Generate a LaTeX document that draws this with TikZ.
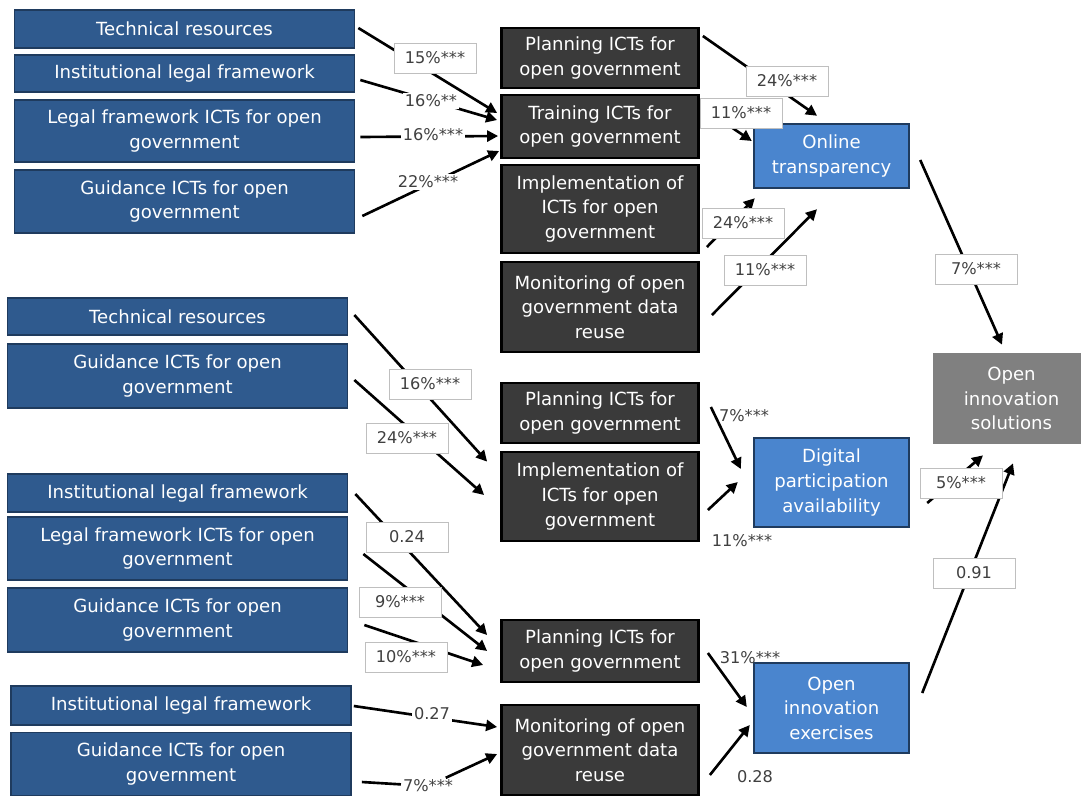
\documentclass[tikz,border=0pt]{standalone}
\usepackage{fontspec}
\setmainfont{DejaVu Sans}
\usetikzlibrary{arrows.meta,calc}
\definecolor{srcblue}{HTML}{2F5A8E}
\definecolor{srcedge}{HTML}{1F3B5E}
\definecolor{actgray}{HTML}{3A3A3A}
\definecolor{outblue}{HTML}{4A85CE}
\definecolor{fingray}{HTML}{808080}
\definecolor{labtext}{HTML}{404040}

\begin{document}
\begin{tikzpicture}[x=0.02cm,y=-0.02cm,
 src/.style={draw=srcedge,line width=1pt,fill=srcblue,text=white,align=center,inner sep=0pt,minimum width=6.8cm},
 act/.style={draw=black,line width=1.6pt,fill=actgray,text=white,align=center,inner sep=0pt,minimum width=3.94cm},
 res/.style={draw=srcedge,line width=1.4pt,fill=outblue,text=white,align=center,inner sep=0pt,minimum width=3.1cm},
 fin/.style={fill=fingray,text=white,align=center,inner sep=0pt,minimum width=3.14cm,minimum height=1.82cm},
 lab/.style={draw=black!25,fill=white,text=labtext,minimum width=1.64cm,minimum height=0.6cm,inner sep=0pt,font=\fontsize{9.2}{11}\selectfont},
 plab/.style={text=labtext,inner sep=1pt,font=\fontsize{9.2}{11}\selectfont},
 arr/.style={-{Triangle[length=2.2mm,width=2.2mm]},line width=1.5pt},
 font=\fontsize{10.3}{14}\selectfont]
 \path[use as bounding box,fill=white] (0,0) rectangle (1081,795);

 % sources
 \node[src,minimum height=0.76cm] (b1) at (184.5,29) {Technical resources};
 \node[src,minimum height=0.74cm] (b2) at (184.5,73.5) {Institutional legal framework};
 \node[src,minimum height=1.24cm] (b3) at (184.5,131) {Legal framework ICTs for open\\government};
 \node[src,minimum height=1.26cm] (b4) at (184.5,201.5) {Guidance ICTs for open\\government};
 \node[src,minimum height=0.74cm] (b5) at (177.5,316.5) {Technical resources};
 \node[src,minimum height=1.28cm] (b6) at (177.5,376) {Guidance ICTs for open\\government};
 \node[src,minimum height=0.76cm] (b7) at (177.5,493) {Institutional legal framework};
 \node[src,minimum height=1.26cm] (b8) at (177.5,548.5) {Legal framework ICTs for open\\government};
 \node[src,minimum height=1.28cm] (b9) at (177.5,620) {Guidance ICTs for open\\government};
 \node[src,minimum height=0.78cm] (b10) at (181,705.5) {Institutional legal framework};
 \node[src,minimum height=1.26cm] (b11) at (181,764) {Guidance ICTs for open\\government};

 % practices
 \node[act,minimum height=1.2cm] (d1) at (600,58) {Planning ICTs for\\open government};
 \node[act,minimum height=1.26cm] (d2) at (600,126.5) {Training ICTs for\\open government};
 \node[act,minimum height=1.76cm] (d3) at (600,209) {Implementation of\\ICTs for open\\government};
 \node[act,minimum height=1.8cm] (d4) at (600,307) {Monitoring of open\\government data\\reuse};
 \node[act,minimum height=1.2cm] (d5) at (600,413) {Planning ICTs for\\open government};
 \node[act,minimum height=1.78cm] (d6) at (600,496.5) {Implementation of\\ICTs for open\\government};
 \node[act,minimum height=1.24cm] (d7) at (600,651) {Planning ICTs for\\open government};
 \node[act,minimum height=1.8cm] (d8) at (600,750) {Monitoring of open\\government data\\reuse};

 % outcomes
 \node[res,minimum height=1.28cm] (t1) at (831.5,156) {Online\\transparency};
 \node[res,minimum height=1.78cm] (t2) at (831.5,482.5) {Digital\\participation\\availability};
 \node[res,minimum height=1.8cm] (t3) at (831.5,708) {Open\\innovation\\exercises};
 \node[fin] (g) at (1011.5,398.5) {Open\\innovation\\solutions};

 \draw[arr] ($(b1.east)+(3,-1)$) -- ($(d2.west)+(-3,-13.5)$);
 \draw[arr] ($(b2.east)+(5,6.5)$) -- ($(d2.west)+(-3,-6.5)$);
 \draw[arr] ($(b3.east)+(5,6)$) -- ($(d2.west)+(-2,9.5)$);
 \draw[arr] ($(b4.east)+(7,14.5)$) -- ($(d2.west)+(-1,24.5)$);
 \draw[arr] ($(d1.east)+(3,-22)$) -- ($(t1.north)+(-14.5,-7)$);
 \draw[arr] ($(d2.east)+(3,-18.5)$) -- ($(t1.west)+(-1,-15)$);
 \draw[arr] ($(d3.east)+(7,38)$) -- ($(t1.south west)+(2,9)$);
 \draw[arr] ($(d4.east)+(12,8)$) -- ($(t1.south)+(-14.5,20)$);
 \draw[arr] ($(t1.east)+(10,4)$) -- ($(g.north)+(-9.5,-8)$);
 \draw[arr] ($(b5.east)+(6,-1.5)$) -- ($(d6.north west)+(-13,11)$);
 \draw[arr] ($(b6.east)+(6,4)$) -- ($(d6.west)+(-16,-1.5)$);
 \draw[arr] ($(d5.east)+(11,-6)$) -- ($(t2.west)+(-12,-13.5)$);
 \draw[arr] ($(d6.east)+(8,13.5)$) -- ($(t2.west)+(-15,-0.5)$);
 \draw[arr] ($(t2.east)+(17,20.5)$) -- ($(g.south)+(-28.5,11)$);
 \draw[arr] ($(b7.east)+(7,1)$) -- ($(d7.west)+(-13,-16)$);
 \draw[arr] ($(b8.east)+(15,5.5)$) -- ($(d7.west)+(-13,0)$);
 \draw[arr] ($(b9.east)+(16,5)$) -- ($(d7.west)+(-17,14)$);
 \draw[arr] ($(b10.east)+(2,0.5)$) -- ($(d8.west)+(-3,-23)$);
 \draw[arr] ($(d7.east)+(8,2)$) -- ($(t3.west)+(-6,-1)$);
 \draw[arr] ($(d8.east)+(10,25)$) -- ($(t3.west)+(-3,17)$);
 \draw[arr] ($(t3.east)+(12,-15)$) -- ($(g.south)+(1.5,19)$);

 % path weights
 \foreach \x/\y/\t [count=\i] in {435/58/15\%***,787/81/24\%***,741/113/11\%***,
   743/223/24\%***,765/270/11\%***,976/269/7\%***,430/384/16\%***,407/438/24\%***,
   961/483/5\%***,407/537/0.24,400/602/9\%***,406/657/10\%***,974/573/0.91}
   \node[lab] (w\i) at (\x,\y) {\t};
 \foreach \x/\y/\t [count=\i] in {431/101/16\%**,433/135/16\%***,428/182/22\%***,432/714/0.27}
   \node[plab,fill=white] (p\i) at (\x,\y) {\t};
 \foreach \x/\y/\t [count=\i] in {744/416/7\%***,742/541/11\%***,750/658/31\%***,755/777/0.28}
   \node[plab] (q\i) at (\x,\y) {\t};
 \node[plab,fill=white] (p5) at (428,786) {7\%***};
 \draw[arr] ($(b11.east)+(10,18)$) -- (p5) -- ($(d8.west)+(-3,4)$);
\end{tikzpicture}
\end{document}
